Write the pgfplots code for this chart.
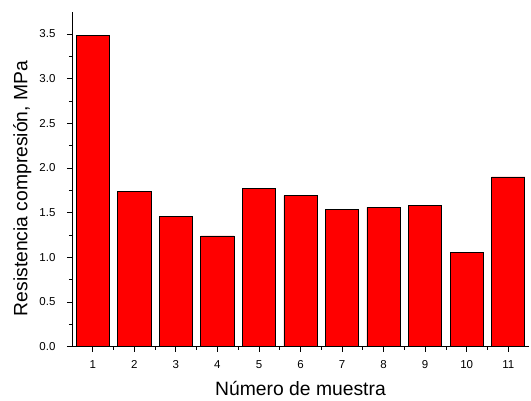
\documentclass[border=0pt]{standalone}
\usepackage{fontspec}
\setmainfont{Liberation Sans}
\usepackage{pgfplots}
\pgfplotsset{compat=1.18}

\newcommand{\ticksize}{\fontsize{11.5}{13}\selectfont}

\begin{document}
\begin{tikzpicture}
\begin{axis}[
  at={(0,0)}, anchor=south west,
  scale only axis,
  width=457pt, height=335pt,
  xmin=0.5, xmax=11.5,
  ymin=0, ymax=3.75,
  axis x line*=bottom,
  axis y line*=left,
  axis line style={line width=0.9pt},
  xtick={1,...,11},
  minor x tick num=1,
  ytick={0,0.5,...,3.5},
  minor y tick num=1,
  tick align=outside,
  major tick length=5pt,
  minor tick length=3pt,
  every tick/.style={black, line width=0.8pt},
  xticklabel={\ticksize\pgfmathprintnumber[assume math mode=true, fixed, precision=0]{\tick}},
  yticklabel={\ticksize\pgfmathprintnumber[assume math mode=true, fixed, fixed zerofill, precision=1]{\tick}},
  xticklabel style={yshift=-5pt},
  yticklabel style={xshift=-8pt},
  xlabel={Número de muestra},
  ylabel={Resistencia compresión, MPa},
  label style={font=\fontsize{19.3}{22}\selectfont},
  xlabel style={at={(axis description cs:0.5,-0.147)}, anchor=base},
  ylabel style={at={(axis description cs:-0.109,0.472)}, anchor=center},
]
\addplot[ybar, bar width=0.8, fill=red, draw=black, line width=0.7pt]
  coordinates {
    (1,3.48) (2,1.74) (3,1.46) (4,1.24) (5,1.77) (6,1.69)
    (7,1.54) (8,1.56) (9,1.58) (10,1.06) (11,1.90)
  };
\end{axis}
\useasboundingbox (-72pt,-53.3pt) rectangle (459pt,346.7pt);
\end{tikzpicture}
\end{document}
